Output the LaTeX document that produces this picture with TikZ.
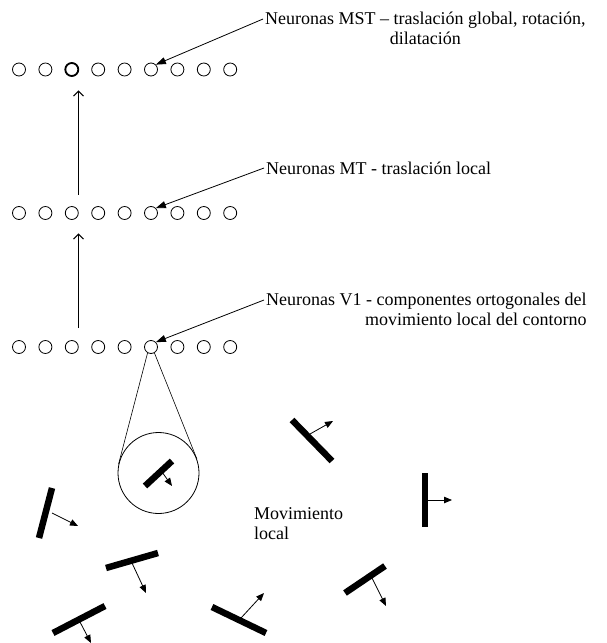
\documentclass[tikz,border=0pt]{standalone}
\usepackage{fontspec}
\setmainfont{Liberation Serif}
\usepackage{tikz}
\usetikzlibrary{arrows.meta, positioning, calc}

\tikzset{
  neurona/.style={circle, draw, line width=0.8pt, minimum size=13pt, inner sep=0pt},
  rotulo/.style={inner sep=0pt, font=\fontsize{18}{20}\selectfont},
  puntero/.style={line width=0.8pt, -{Triangle[length=10pt,width=7pt]}},
  subida/.style={line width=1pt, -{Straight Barb[length=5pt,width=10pt]}},
  barra/.style={line width=6.5pt},
  flechita/.style={line width=0.8pt, -{Triangle[length=8pt,width=6.5pt]}}
}

% segmento de contorno con su movimiento ortogonal
\newcommand{\contorno}[4]{%
  \draw[barra] #1 -- #2;
  \draw[flechita] #3 -- #4;
}

\begin{document}
\begin{tikzpicture}[x=1pt, y=-1pt]
  \useasboundingbox (0,0) rectangle (607,643);
  % tres capas de neuronas
  \foreach \i in {1,...,9} {
    \node[neurona] (mst\i) at ({19+26.4*(\i-1)},69.5) {};
    \node[neurona] (mt\i) at ({19+26.4*(\i-1)},213) {};
    \node[neurona] (vuno\i) at ({19+26.4*(\i-1)},347) {};
  }
  \draw[line width=1.8pt] (mst3.center) circle[radius=6.5];
  \draw[subida] ([xshift=6.7pt, yshift=12pt]vuno3.north) -- ([xshift=6.7pt, yshift=-13.5pt]mt3.south);
  \draw[subida] ([xshift=6.7pt, yshift=11.5pt]mt3.north) -- ([xshift=6.7pt, yshift=-14pt]mst3.south);

  % rotulos
  \node[rotulo, anchor=west, align=center] (lblmst) at (265,28)
    {Neuronas MST – traslación global, rotación,\\dilatación};
  \node[rotulo, anchor=west] (lblmt) at (266,168) {Neuronas MT - traslación local};
  \node[rotulo, anchor=west, align=right] (lblvuno) at (266,309)
    {Neuronas V1 - componentes ortogonales del\\movimiento local del contorno};
  \draw[puntero] ([xshift=-2pt, yshift=9pt]lblmst.west) -- (mst6.north east);
  \draw[puntero] ([xshift=-2pt]lblmt.west) -- (mt6.north east);
  \draw[puntero] ([xshift=-2pt, yshift=9pt]lblvuno.west) -- (vuno6.north east);

  % lupa sobre una neurona V1
  \node[circle, draw, line width=0.8pt, minimum size=81pt, inner sep=0pt] (lupa) at (158.5,473) {};
  \draw[line width=0.6pt] (vuno6.240) -- (lupa.167);
  \draw[line width=0.6pt] (vuno6.300) -- (lupa.20);
  \contorno{(145,486)}{(172,461)}{(162,472)}{(172,486)}

  \node[rotulo, anchor=west, align=left] (movlocal) at (254,524) {Movimiento\\local};

  % contornos con movimiento local
  \contorno{(39,538)}{(52,488)}{(52,513)}{(78,526)}
  \contorno{(292,420)}{(332,461)}{(310,434)}{(333,421)}
  \contorno{(425,473)}{(425,527)}{(428,500)}{(452,500)}
  \contorno{(106,568)}{(158,553)}{(132,563)}{(146,593)}
  \contorno{(53,633)}{(105,606)}{(80,622)}{(91,643)}
  \contorno{(212,607)}{(266,633)}{(241,618)}{(264,593)}
  \contorno{(345,593)}{(385,566)}{(372,578)}{(386,606)}
\end{tikzpicture}
\end{document}
